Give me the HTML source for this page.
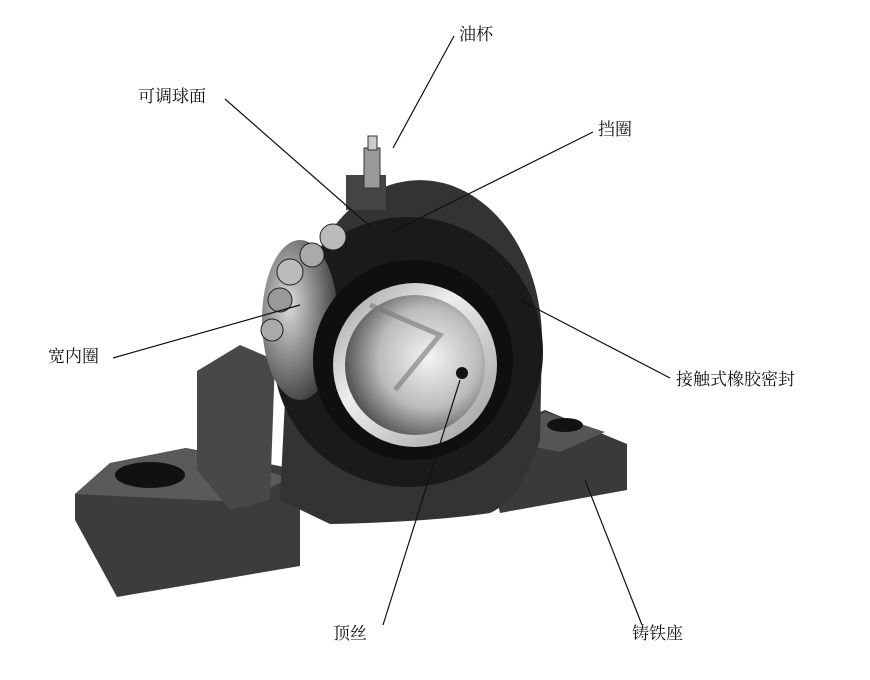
<!DOCTYPE html>
<html><head><meta charset="utf-8"><style>
body{margin:0;background:#fff;width:870px;height:680px;overflow:hidden}
svg{display:block}
text{font-family:"Liberation Serif","Noto Serif CJK SC",serif;font-size:17px;fill:#111}
</style></head><body>
<svg width="870" height="680" viewBox="0 0 870 680">
<defs>
<radialGradient id="bore" cx="0.6" cy="0.45" r="0.6"><stop offset="0" stop-color="#f4f4f4"/><stop offset="0.6" stop-color="#bbb"/><stop offset="1" stop-color="#555"/></radialGradient>
<linearGradient id="ring" x1="0" y1="0" x2="1" y2="1"><stop offset="0" stop-color="#999"/><stop offset="0.4" stop-color="#eee"/><stop offset="1" stop-color="#999"/></linearGradient>
<radialGradient id="inner" cx="0.35" cy="0.4" r="0.7"><stop offset="0" stop-color="#ddd"/><stop offset="0.6" stop-color="#777"/><stop offset="1" stop-color="#333"/></radialGradient>
</defs>
<!-- left foot -->
<polygon points="75,494 110,463 186,448 300,470 300,566 117,597 75,520" fill="#3c3c3c"/>
<polygon points="75,494 110,463 186,448 290,478 240,502" fill="#5a5a5a"/>
<ellipse cx="150" cy="475" rx="35" ry="13" fill="#111"/>
<!-- right foot -->
<polygon points="495,430 545,410 627,444 627,490 500,513 490,470" fill="#3a3a3a"/>
<polygon points="500,440 545,412 605,432 560,452" fill="#555"/>
<ellipse cx="565" cy="425" rx="18" ry="7" fill="#111"/>
<!-- body arch -->
<path d="M298,340 A122,160 0 0 1 542,340 L540,440 Q520,500 490,513 Q430,522 330,524 L280,500 L285,400 Z" fill="#333"/>
<!-- left pedestal -->
<polygon points="197,371 240,345 275,360 270,500 230,510 197,470" fill="#484848"/>
<!-- seal dark region -->
<ellipse cx="408" cy="352" rx="135" ry="135" fill="#1a1a1a"/>
<ellipse cx="300" cy="320" rx="38" ry="80" fill="url(#inner)"/>
<circle cx="413" cy="360" r="100" fill="#0f0f0f"/>
<!-- inner ring band -->
<circle cx="415" cy="365" r="82" fill="url(#ring)"/>
<circle cx="415" cy="365" r="70" fill="url(#bore)"/>
<path d="M370,305 L440,335 L395,390" fill="none" stroke="#777" stroke-width="5" opacity="0.6"/>
<circle cx="462" cy="373" r="6" fill="#111"/>
<!-- balls -->
<circle cx="333" cy="237" r="13" fill="#bbb" stroke="#222"/>
<circle cx="312" cy="255" r="12" fill="#aaa" stroke="#222"/>
<circle cx="290" cy="272" r="13" fill="#bbb" stroke="#222"/>
<circle cx="280" cy="300" r="12" fill="#999" stroke="#222"/>
<circle cx="272" cy="330" r="11" fill="#aaa" stroke="#222"/>
<!-- grease fitting -->
<rect x="346" y="175" width="40" height="35" fill="#444"/>
<rect x="364" y="148" width="16" height="40" fill="#999" stroke="#333"/>
<rect x="368" y="136" width="9" height="14" fill="#ccc" stroke="#333"/>
<!-- leader lines -->
<g stroke="#111" stroke-width="1.2" fill="none">
<line x1="454" y1="36" x2="393" y2="148"/>
<line x1="225" y1="99" x2="372" y2="228"/>
<line x1="593" y1="132" x2="392" y2="232"/>
<line x1="113" y1="358" x2="300" y2="305"/>
<line x1="670" y1="378" x2="520" y2="300"/>
<line x1="383" y1="625" x2="460" y2="380"/>
<line x1="642" y1="625" x2="585" y2="480"/>
</g>
<text x="459" y="40">油杯</text>
<text x="138" y="102">可调球面</text>
<text x="598" y="135">挡圈</text>
<text x="48" y="362">宽内圈</text>
<text x="676" y="385">接触式橡胶密封</text>
<text x="333" y="639">顶丝</text>
<text x="632" y="639">铸铁座</text>
</svg>
</body></html>
